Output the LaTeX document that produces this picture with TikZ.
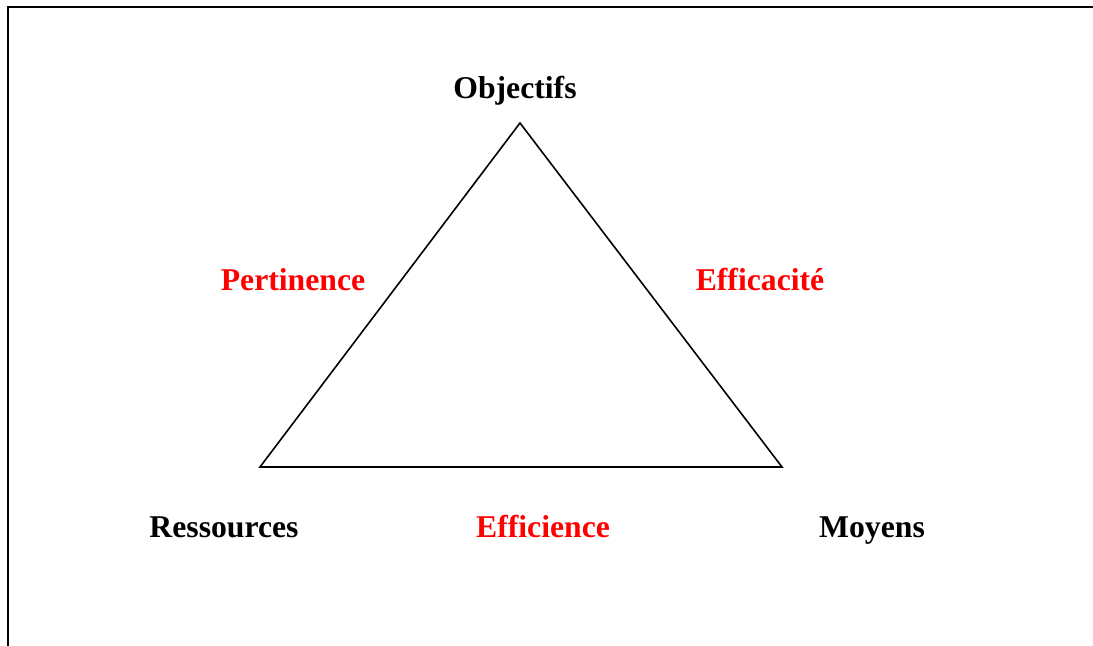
\documentclass[tikz,border=0pt]{standalone}
\usepackage{fontspec}
\setmainfont{Liberation Serif}
\usepackage{tikz}
\usetikzlibrary{calc}

\tikzset{
	mot/.style={font=\fontsize{15.85}{18}\selectfont\bfseries, inner sep=0, anchor=base},
	critere/.style={mot, text=red}
}

\begin{document}
\begin{tikzpicture}[x=0.5pt, y=-0.5pt]
\useasboundingbox (0,0) rectangle (1093,646);
\draw[line width=1.4pt] (8,646) -- (8,7) -- (1093,7);
\coordinate (sommet) at (520,123);
\coordinate (gauche) at (260,467);
\coordinate (droite) at (782,467);
\draw[line width=0.8pt, line join=miter] (sommet) -- (gauche) -- (droite) -- cycle;
\node[mot] (obj) at (515,99) {Objectifs};
\node[mot] (res) at (224,538) {Ressources};
\node[mot] (moy) at (872,538) {Moyens};
\node[critere] (per) at (293,291) {Pertinence};
\node[critere] (efc) at (760,291) {Efficacité};
\node[critere] (eff) at (543,538) {Efficience};
\end{tikzpicture}
\end{document}
